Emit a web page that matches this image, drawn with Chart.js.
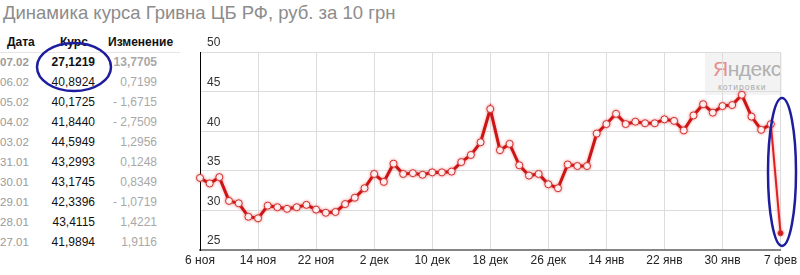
<!DOCTYPE html>
<html><head><meta charset="utf-8">
<script src="https://cdn.jsdelivr.net/npm/chart.js@4/dist/chart.umd.min.js"></script>
<style>
html,body{margin:0;padding:0;background:#fff;}
body{width:800px;height:275px;position:relative;overflow:hidden;font-family:"Liberation Sans",Arial,sans-serif;}
#title{position:absolute;left:3px;top:2px;font-size:18.5px;line-height:22px;color:#8c8c8c;white-space:nowrap;}
.c{position:absolute;white-space:nowrap;line-height:14px;}
.h{font-weight:bold;font-size:12px;color:#111;}
.d{font-size:11.5px;color:#9a9a9a;left:0;}
.v{font-size:12px;color:#111;right:705px;text-align:right;}
.ch{font-size:12px;color:#a8a8a8;right:643px;text-align:right;}
#hline{position:absolute;left:0;top:52px;width:180px;height:1px;background:#e6e6e6;}
#wm{position:absolute;left:705px;top:53px;width:77px;height:42px;background:#f3f3f3;}
#wm1{position:absolute;left:8px;top:5px;font-size:21px;line-height:22px;color:#b0b0b0;letter-spacing:-0.5px;}
#wm1 span{color:#e89090;}
#wm2{position:absolute;left:13px;top:29px;font-size:8.5px;line-height:10px;color:#aaa;letter-spacing:1px;}
#cw{position:absolute;left:0;top:0;width:800px;height:275px;}
svg{position:absolute;left:0;top:0;}
</style></head>
<body>
<div id="title">Динамика курса Гривна ЦБ РФ, руб. за 10 грн</div>
<div id="table"></div>
<div id="hline"></div>
<div id="wm"><div id="wm1"><span>Я</span>ндекс</div><div id="wm2">котировки</div></div>
<div id="cw"><canvas id="c" width="800" height="275"></canvas></div>
<svg width="800" height="275">
<ellipse cx="74" cy="67" rx="37" ry="24" fill="none" stroke="#1d1d9e" stroke-width="2.5"/>
<ellipse cx="782" cy="172" rx="14" ry="74" fill="none" stroke="#1d1d9e" stroke-width="2.5"/>
</svg>
<script>
const labels = ["6 ноя","7 ноя","8 ноя","9 ноя","12 ноя","13 ноя","14 ноя","15 ноя","16 ноя","19 ноя","20 ноя","21 ноя","22 ноя","23 ноя","27 ноя","28 ноя","29 ноя","30 ноя","2 дек","3 дек","4 дек","5 дек","6 дек","7 дек","10 дек","11 дек","12 дек","13 дек","14 дек","17 дек","18 дек","19 дек","20 дек","21 дек","24 дек","25 дек","26 дек","27 дек","28 дек","31 дек","10 янв","11 янв","14 янв","15 янв","16 янв","17 янв","18 янв","21 янв","22 янв","23 янв","24 янв","27 янв","28 янв","29 янв","30 янв","31 янв","3 фев","4 фев","5 фев","6 фев","7 фев"];
const rates = [34.1,33.4,34.2,31.2,30.9,29.2,29.0,30.6,30.4,30.2,30.4,30.7,30.1,29.7,29.8,30.8,31.6,32.8,34.6,33.6,35.9,34.6,34.7,34.5,34.8,34.8,34.9,36.1,37.0,38.6,42.8,37.6,38.4,35.7,34.4,34.6,33.3,32.8,35.8,35.6,35.6,39.7,40.9,42.2,40.9,41.2,41.0,41.0,41.5,41.3,40.1,41.9894,43.4115,42.3396,43.1745,43.2993,44.5949,41.8440,40.1725,40.8924,27.1219];
const tickLabels = ["6 ноя","14 ноя","22 ноя","2 дек","10 дек","18 дек","26 дек","14 янв","22 янв","30 янв","7 фев"];
const yTicks = [25,30,35,40,45,50];
const tableDates = ["07.02","06.02","05.02","04.02","03.02","31.01","30.01","29.01","28.01","27.01"];
const tableRates = ["27,1219","40,8924","40,1725","41,8440","44,5949","43,2993","43,1745","42,3396","43,4115","41,9894"];
const tableChanges = ["13,7705","0,7199","- 1,6715","- 2,7509","1,2956","0,1248","0,8349","- 1,0719","1,4221","1,9116"];

// table
const tb = document.getElementById('table');
let html = '<div class="c h" style="left:7px;top:35px">Дата</div><div class="c h" style="left:60px;top:35px">Курс</div><div class="c h" style="left:108px;top:35px">Изменение</div>';
tableDates.forEach((d,i)=>{
  const top = 55 + i*20;
  const b = i===0 ? 'font-weight:bold;' : '';
  html += `<div class="c d" style="top:${top}px;${b}">${d}</div>`;
  html += `<div class="c v" style="top:${top}px;${b}">${tableRates[i]}</div>`;
  html += `<div class="c ch" style="top:${top}px;${b}">${tableChanges[i]}</div>`;
});
tb.innerHTML = html;

const glow = {
  id:'glow',
  beforeDatasetDraw(chart){ const ctx=chart.ctx; ctx.save(); ctx.shadowColor='rgba(230,40,40,0.45)'; ctx.shadowBlur=3; },
  afterDatasetDraw(chart){ chart.ctx.restore(); }
};

const last = rates.length-1;
new Chart(document.getElementById('c'), {
  type:'line',
  data:{labels, datasets:[{
    data: rates,
    borderColor:'#cc1515',
    borderWidth:3,
    tension:0,
    pointRadius: ctx => ctx.dataIndex===last ? 2.5 : 3.5,
    pointBackgroundColor: ctx => ctx.dataIndex===last ? '#d01818' : '#ffffff',
    pointBorderColor:'#cf3030',
    pointBorderWidth:1,
    segment:{
      borderWidth: ctx => ctx.p1DataIndex===last ? 2 : 3,
      borderColor: ctx => ctx.p1DataIndex===last ? '#e02020' : '#cc1515'
    }
  }]},
  options:{
    responsive:false,
    animation:false,
    events:[],
    layout:{padding:{left:200,right:17,top:52,bottom:9}},
    plugins:{legend:{display:false},tooltip:{enabled:false}},
    scales:{
      x:{
        type:'category',
        offset:false,
        afterFit(s){ s.height=16; },
        grid:{color:'#dcdcdc',lineWidth:1,drawTicks:false},
        border:{display:true,color:'#858585',width:2},
        ticks:{autoSkip:false,maxRotation:0,padding:3,color:'#222',font:{family:'"Liberation Sans", Arial, sans-serif',size:12},
          callback:(v,i)=> tickLabels.includes(labels[i]) ? labels[i] : null}
      },
      y:{
        min:25,max:50,
        afterFit(s){ s.width=0; },
        afterBuildTicks(s){ s.ticks = yTicks.map(v=>({value:v})); },
        grid:{color:'#dcdcdc',lineWidth:1,drawTicks:false},
        border:{display:true,color:'#000',width:1},
        ticks:{mirror:true,padding:7,labelOffset:-9,color:'#333',font:{family:'"Liberation Sans", Arial, sans-serif',size:12}}
      }
    }
  },
  plugins:[glow]
});
</script>
</body></html>
